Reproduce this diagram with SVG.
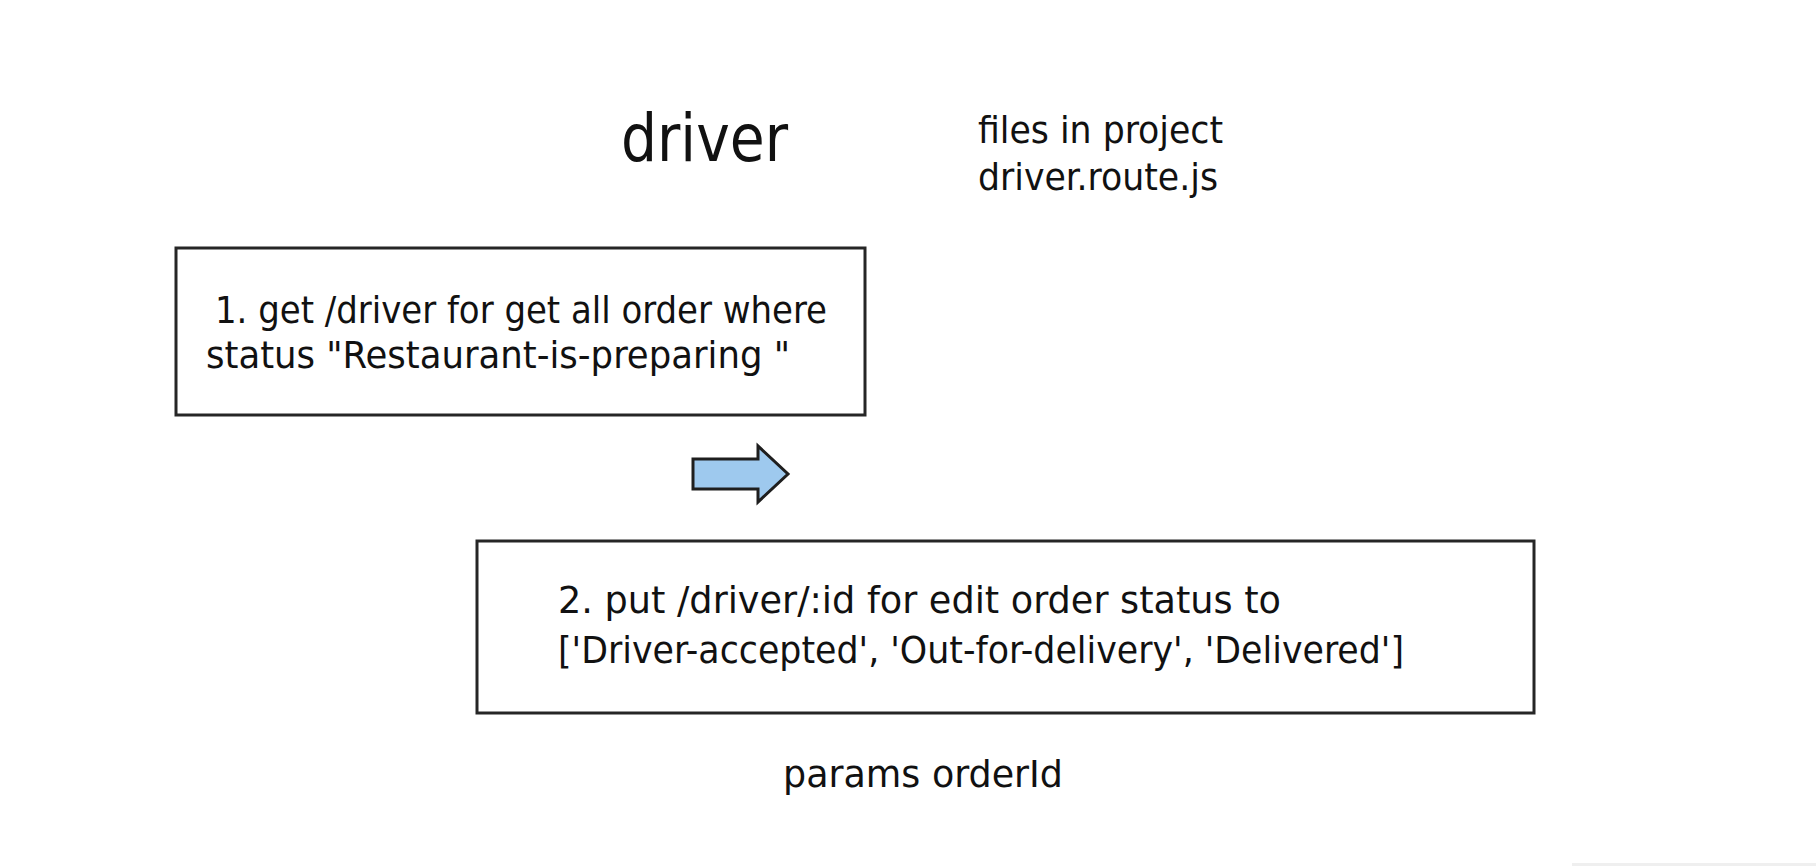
<svg xmlns="http://www.w3.org/2000/svg" width="1816" height="866" viewBox="0 0 1816 866">
  <style>
    .box { fill: #ffffff; stroke: #262626; stroke-width: 3; }
    .txt { font-family: "DejaVu Sans Condensed", "Liberation Sans", sans-serif; font-size: 38px; fill: #111111; }
    .title { font-family: "DejaVu Sans Condensed", "Liberation Sans", sans-serif; font-size: 66px; fill: #111111; }
    .arrow { fill: #9ec9ee; stroke: #1e1e1e; stroke-width: 3; stroke-linejoin: miter; }
  </style>
  <rect x="0" y="0" width="1816" height="866" fill="#ffffff"/>
  <rect x="1572" y="863" width="244" height="3" fill="#efefef"/>

  <g id="title">
    <text class="title" x="621" y="161" textLength="167" lengthAdjust="spacingAndGlyphs">driver</text>
  </g>

  <g id="files-note">
    <text class="txt" x="978" y="143" textLength="245" lengthAdjust="spacingAndGlyphs">files in project</text>
    <text class="txt" x="978" y="190" textLength="240" lengthAdjust="spacingAndGlyphs">driver.route.js</text>
  </g>

  <g id="node-get-driver">
    <rect class="box" x="176" y="248" width="689" height="167"/>
    <text class="txt" x="215" y="323" textLength="612" lengthAdjust="spacingAndGlyphs">1. get /driver for get all order where</text>
    <text class="txt" x="206" y="368" textLength="584" lengthAdjust="spacingAndGlyphs">status "Restaurant-is-preparing "</text>
  </g>

  <g id="node-put-driver">
    <rect class="box" x="477" y="541" width="1057" height="172"/>
    <text class="txt" x="558" y="613" textLength="723" lengthAdjust="spacingAndGlyphs">2. put /driver/:id for edit order status to</text>
    <text class="txt" x="558" y="663" textLength="846" lengthAdjust="spacingAndGlyphs">['Driver-accepted', 'Out-for-delivery', 'Delivered']</text>
  </g>

  <g id="params-note">
    <text class="txt" x="783" y="787" textLength="280" lengthAdjust="spacingAndGlyphs">params orderId</text>
  </g>

  <g id="connectors">
    <polygon class="arrow" points="693,459 758,459 758,446 788,474 758,502 758,489 693,489"/>
  </g>
</svg>
